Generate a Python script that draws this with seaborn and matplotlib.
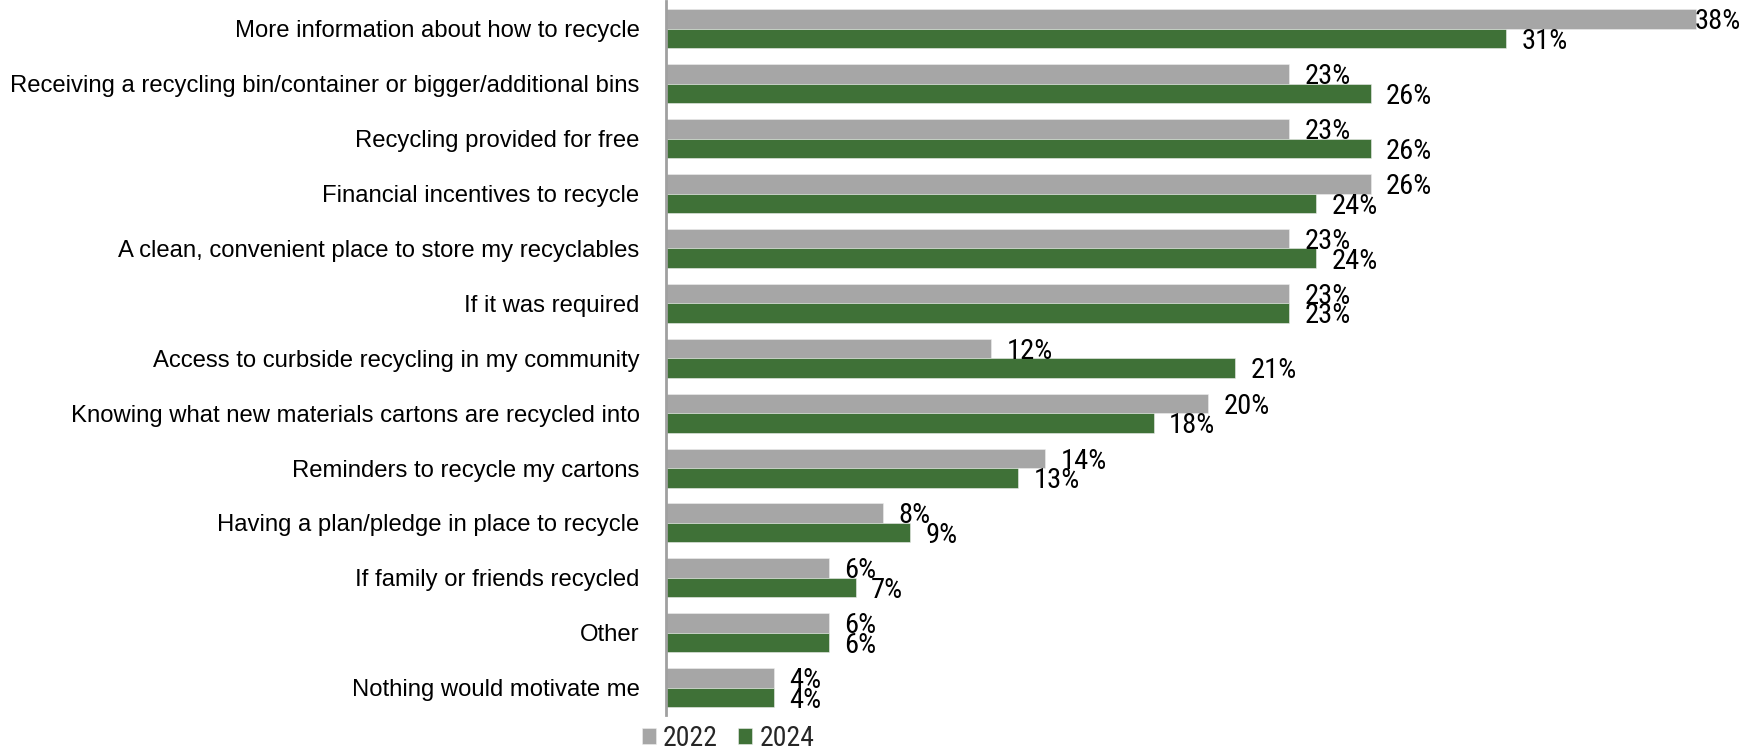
import matplotlib
matplotlib.use("Agg")
import matplotlib.pyplot as plt
import seaborn as sns
import pandas as pd

# Survey responses: what would motivate people to recycle cartons
categories = [
    "More information about how to recycle",
    "Receiving a recycling bin/container or bigger/additional bins",
    "Recycling provided for free",
    "Financial incentives to recycle",
    "A clean, convenient place to store my recyclables",
    "If it was required",
    "Access to curbside recycling in my community",
    "Knowing what new materials cartons are recycled into",
    "Reminders to recycle my cartons",
    "Having a plan/pledge in place to recycle",
    "If family or friends recycled",
    "Other",
    "Nothing would motivate me",
]
values_2022 = [38, 23, 23, 26, 23, 23, 12, 20, 14, 8, 6, 6, 4]
values_2024 = [31, 26, 26, 24, 24, 23, 21, 18, 13, 9, 7, 6, 4]
years = ["2022", "2024"]

df = pd.DataFrame({
    "category": categories * 2,
    "value": values_2022 + values_2024,
    "year": [years[0]] * len(categories) + [years[1]] * len(categories),
})

sns.set_theme(style="white")
plt.rcParams["font.family"] = ["Liberation Sans", "DejaVu Sans"]
narrow = ["Roboto Condensed", "Liberation Sans", "DejaVu Sans"]

W, H = 1742, 749
fig = plt.figure(figsize=(W / 100, H / 100), dpi=100)
ax = fig.add_axes([666 / W, 1 - 715 / H, 1 - 666 / W, (715 - 1.5) / H])

palette = {"2022": "#A6A6A6", "2024": "#3F7137"}
sns.barplot(data=df, y="category", x="value", hue="year", orient="h",
            palette=palette, width=0.71, ax=ax, legend=True,
            edgecolor="#EEEEEE", linewidth=0.4, saturation=1)

ax.set_xlim(0, (W - 666) / 27.1)
ax.set_xlabel("")
ax.set_ylabel("")
ax.set_xticks([])
for side in ["top", "right", "bottom"]:
    ax.spines[side].set_visible(False)
ax.spines["left"].set_color("#A0A0A0")
ax.spines["left"].set_linewidth(2)
ax.tick_params(axis="y", length=0, pad=19, labelsize=17.2, labelcolor="black")

texts = []
for cont in ax.containers:
    texts += ax.bar_label(cont, fmt="%g%%", padding=11, fontsize=20.5,
                          family=narrow, color="black", clip_on=False)
for t in texts:
    t.xyann = (t.xyann[0], -2.0)

# keep labels that would run past the right edge inside the figure
fig.canvas.draw()
renderer = fig.canvas.get_renderer()
for t in texts:
    bb = t.get_window_extent(renderer)
    if bb.x1 > W - 1:
        t.xyann = (t.xyann[0] - (bb.x1 - W + 1) * 72 / 100, t.xyann[1])

ax.get_legend().remove()
handles, labels = ax.get_legend_handles_labels()
fig.legend(handles, labels, loc="center", bbox_to_anchor=(728 / W, 1 - 738 / H),
           ncol=2, frameon=False, prop={"family": narrow, "size": 20},
           handlelength=0.5, handleheight=0.5, handletextpad=0.25,
           columnspacing=0.75, borderpad=0, borderaxespad=0)

fig.savefig("out.png", dpi=100)
